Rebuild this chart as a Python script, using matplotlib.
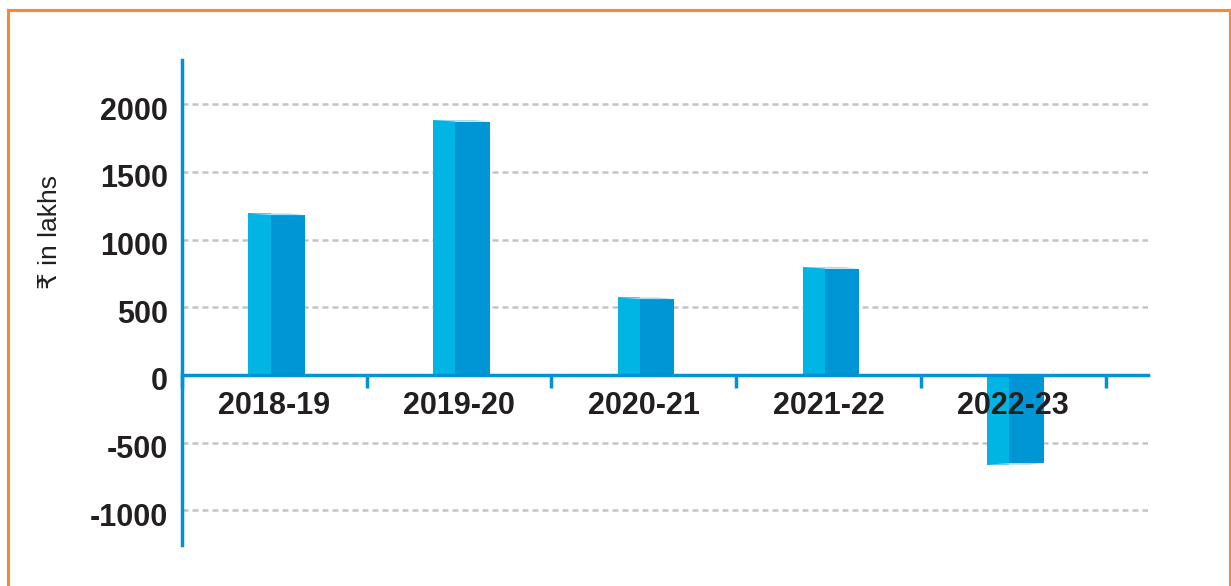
import matplotlib.pyplot as plt
import matplotlib.transforms as mtransforms
from matplotlib.patches import Polygon
from matplotlib.lines import Line2D

# data
years = ["2018-19", "2019-20", "2020-21", "2021-22", "2022-23"]
values = [1180, 1870, 560, 785, -650]
yticks = [-1000, -500, 0, 500, 1000, 1500, 2000]

LIGHT = "#00b4e4"
DARK = "#0096d6"
TOP = "#a6dcf1"
AXIS = "#0092d4"
FONT = ["Liberation Sans", "DejaVu Sans"]

W, H = 1231, 586
fig = plt.figure(figsize=(W / 100, H / 100), dpi=100)
ax = fig.add_axes([182 / W, 41 / H, (1148 - 182) / W, (545 - 60) / H])

ax.set_xlim(-0.5, 4.73)
ax.set_ylim(-1255, 2325)

# dashed grid
for t in yticks:
    if t != 0:
        ax.axhline(t, color="#c4c4c4", lw=1.8, ls=(0, (2.4, 1.6)), zorder=0)

# pseudo-3d bars: light front face, darker side face, pale top
fw, sw = 0.12, 0.185
dy = 24
for i, v in enumerate(values):
    x0 = i - 0.14
    s = 1 if v >= 0 else -1
    ax.bar(x0, v + s * dy * 0.5, width=fw, align="edge", color=LIGHT, lw=0, zorder=2)
    ax.bar(x0 + fw, v, width=sw, align="edge", color=DARK, lw=0, zorder=2)
    top = Polygon([(x0, v + s * dy * 0.5), (x0 + fw + sw * 0.55, v + s * dy * 0.5),
                   (x0 + fw + sw, v), (x0 + fw, v)],
                  closed=True, color=TOP, lw=0, zorder=2)
    ax.add_patch(top)

# axes styling
for side in ["top", "right"]:
    ax.spines[side].set_visible(False)
ax.spines["left"].set_color(AXIS)
ax.spines["left"].set_linewidth(2.5)
ax.spines["bottom"].set_position(("data", 0))
ax.spines["bottom"].set_color(AXIS)
ax.spines["bottom"].set_linewidth(2.5)
ax.spines["bottom"].set_zorder(3)

ax.set_xticks([i - 0.5 for i in range(len(years) + 1)])
ax.set_xticklabels([])
ax.tick_params(axis="x", direction="out", length=9, width=2.5, color=AXIS)
ax.set_yticks(yticks)
ax.set_yticklabels([str(t) for t in yticks], fontfamily=FONT, fontweight="bold",
                   fontsize=22, color="#231f20")
ax.tick_params(axis="y", length=0, pad=10)
# labels sit a few pixels below their grid lines in the reference
shift = mtransforms.ScaledTranslation(0, -4 / 100, fig.dpi_scale_trans)
for lab in ax.get_yticklabels():
    lab.set_transform(lab.get_transform() + shift)

for i, y in enumerate(years):
    ax.text(i, -232, y, ha="center", va="center", fontfamily=FONT,
            fontweight="bold", fontsize=22, color="#231f20", zorder=4)

fig.text(50 / W, 1 - 232 / H, "₹ in lakhs", rotation=90, ha="center", va="center",
         fontfamily=FONT, fontsize=19, color="#231f20")

# orange frame
oc = "#f5893a"
fig.add_artist(Line2D([8 / W, 8 / W], [0, 1 - 10 / H], color=oc, lw=2.2))
fig.add_artist(Line2D([8 / W, 1230 / W], [1 - 10 / H, 1 - 10 / H], color=oc, lw=2.2))
fig.add_artist(Line2D([1230 / W, 1230 / W], [0, 1 - 10 / H], color=oc, lw=2.2))

fig.savefig("out.png", dpi=100)
